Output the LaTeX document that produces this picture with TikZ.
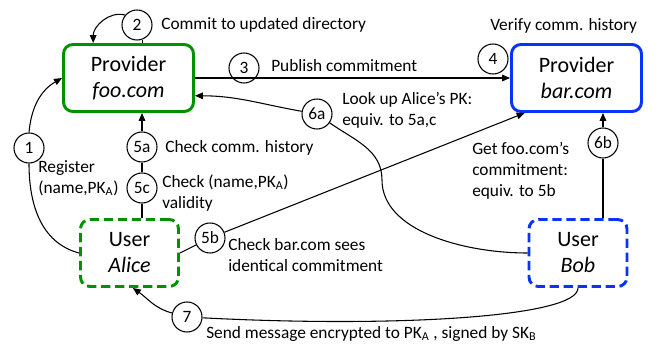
\documentclass[tikz,border=0pt]{standalone}
\usepackage{fontspec}
\setmainfont{Carlito}
\usetikzlibrary{arrows.meta,calc}
\definecolor{fooGreen}{RGB}{0,145,0}
\definecolor{barBlue}{RGB}{10,50,250}

\begin{document}
\begin{tikzpicture}[x=0.75pt,y=-0.75pt,
  every node/.style={font=\fontsize{13}{15.75}\selectfont},
  party/.style={rounded corners=7pt,line width=2.2pt,align=center,inner sep=0pt,font=\fontsize{16.5}{19.5}\selectfont},
  provider/.style={party,minimum width=97.5pt,minimum height=50.25pt},
  user/.style={party,dash pattern=on 7pt off 3.5pt,minimum width=73.5pt,minimum height=50.25pt},
  stepnum/.style={circle,draw,fill=white,line width=0.8pt,minimum size=22.5pt,inner sep=0pt},
  lbl/.style={anchor=west,align=left,inner sep=0pt},
  conn/.style={line width=0.8pt},
  arr/.style={conn,-{Triangle[length=6pt,width=5pt]}}]
  \useasboundingbox (0,0) rectangle (662,350);

  % parties
  \node[provider,draw=fooGreen] (foo) at (128.5,78) {Provider\\\textit{foo.com}};
  \node[provider,draw=barBlue] (bar) at (576.5,78) {Provider\\\textit{bar.com}};
  \node[user,draw=fooGreen] (alice) at (129.5,253) {User\\\textit{Alice}};
  \node[user,draw=barBlue] (bob) at (578,253) {User\\\textit{Bob}};

  % steps
  \node[stepnum] (c1) at (29,148) {1};
  \node[stepnum] (c2) at (137,25) {2};
  \node[stepnum] (c3) at (244,68) {3};
  \node[stepnum] (c4) at (493,59) {4};
  \node[stepnum] (c5a) at (142,147) {5a};
  \node[stepnum] (c5c) at (142,188) {5c};
  \node[stepnum] (c5b) at (210,238) {5b};
  \node[stepnum] (c6a) at (317,114) {6a};
  \node[stepnum] (c6b) at (603,143) {6b};
  \node[stepnum] (c7) at (187,317) {7};
  \coordinate (bend6a) at (382,180);

  % connectors
  \draw[arr] (c1.north) to[out=85,in=210] (foo.west);
  \draw[conn] (c1.south) to[out=-90,in=165] (alice.west);
  \draw[arr] (c2.140) to[out=165,in=90] ([xshift=-26.5pt]foo.north);
  \draw[conn] (c2.-70) -- (c2.-70 |- foo.north);
  \draw[arr] (foo.east) -- (bar.west);
  \draw[arr] (c5a) -- (c5a |- foo.south);
  \draw[conn] (c5a) -- (c5c);
  \draw[conn] (c5c) -- (c5c |- alice.north);
  \draw[conn] (alice.east) -- (c5b);
  \draw[arr] (c5b) -- ([xshift=11pt]bar.south west);
  \draw[arr] (c6a) to[out=170,in=0] (foo.-15);
  \draw[conn] (c6a) to[out=-35,in=90] (bend6a) to[out=-90,in=180,out looseness=0.8] (bob.west);
  \draw[arr] (c6b) -- (c6b |- bar.south);
  \draw[conn] (c6b) -- (c6b |- bob.north);
  \draw[conn] (bob.south) to[out=-90,in=-3,out looseness=0.2,in looseness=1.3] (c7);
  \draw[arr] (c7) to[out=165,in=-35] ([xshift=2.5pt]alice.south);

  % labels
  \node[lbl] (l2) at (161,25) {Commit to updated directory};
  \node[lbl] (l3) at (271,66) {Publish commitment};
  \node[lbl] (l4) at (490,26) {Verify comm. history};
  \node[lbl] (l6a) at (342,110) {Look up Alice’s PK:\\equiv. to 5a,c};
  \node[lbl] (l5a) at (165,148) {Check comm. history};
  \node[lbl] (l1) at (38,178) {Register\\(name,PK\textsubscript{A})};
  \node[lbl] (l5c) at (162,193) {Check (name,PK\textsubscript{A})\\validity};
  \node[lbl] (l6b) at (472,171) {Get foo.com’s\\commitment:\\equiv. to 5b};
  \node[lbl] (l5b) at (228,255) {Check bar.com sees\\identical commitment};
  \node[lbl] (l7) at (206,334) {Send message encrypted to PK\textsubscript{A} , signed by SK\textsubscript{B}};
\end{tikzpicture}
\end{document}
